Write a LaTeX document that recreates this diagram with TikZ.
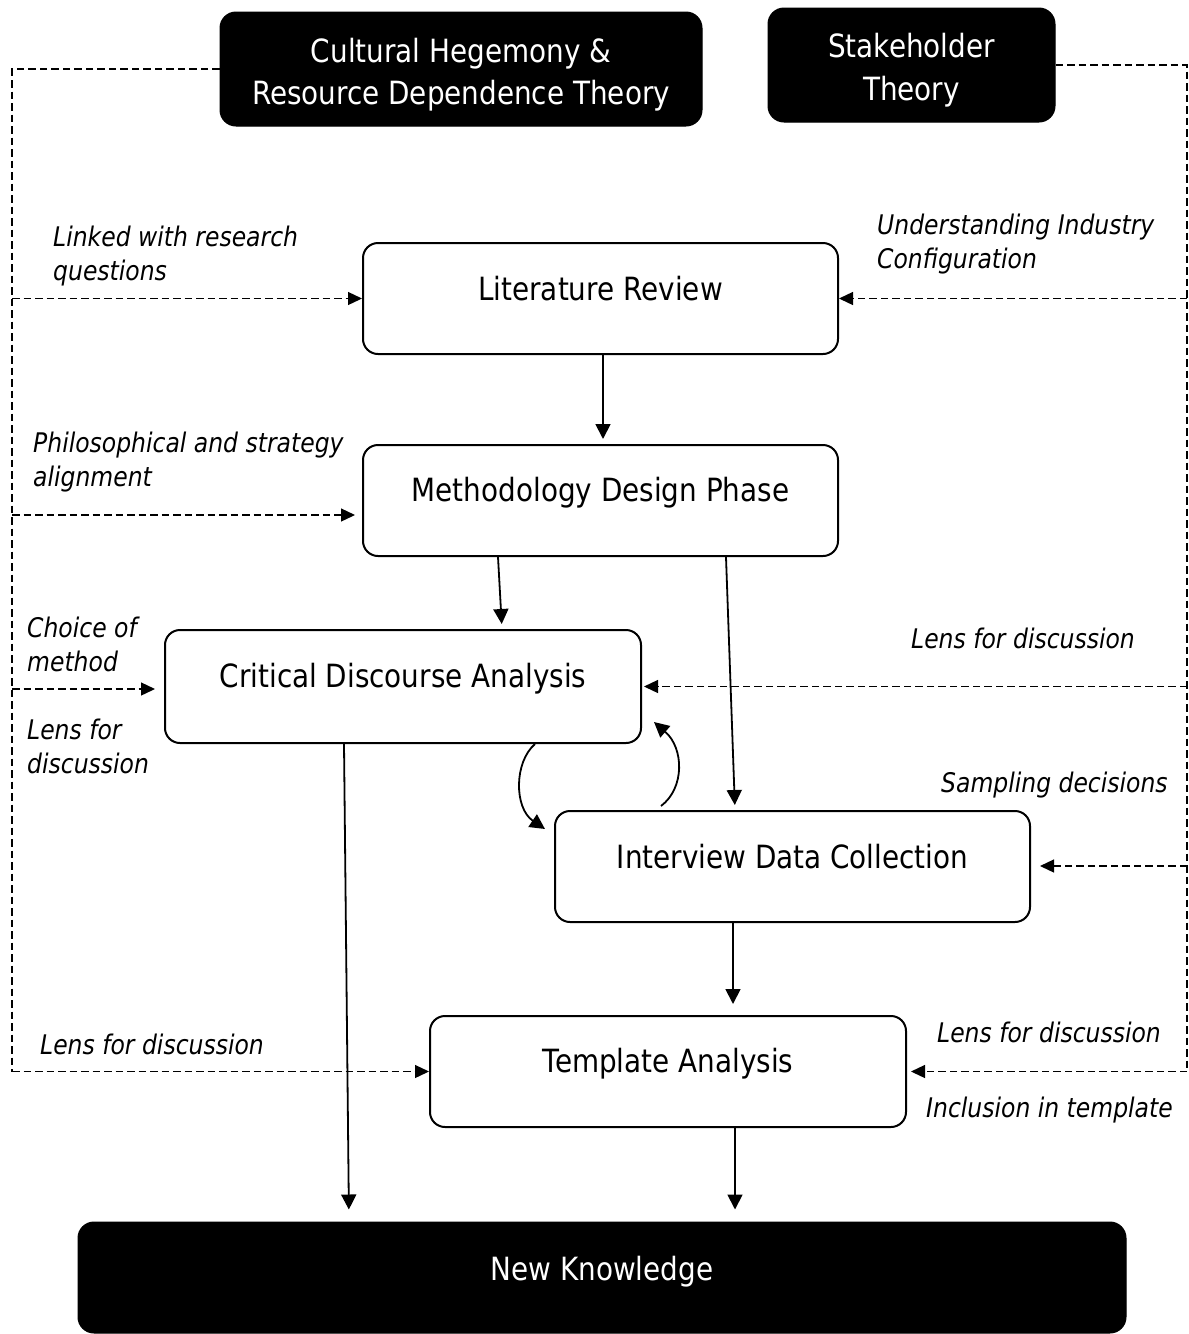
\documentclass[tikz,border=0pt]{standalone}
\usepackage{fontspec}
\setmainfont{DejaVu Sans}[FakeStretch=0.87]
\usetikzlibrary{arrows.meta}
\begin{document}
\begin{tikzpicture}[x=1pt,y=-1pt,
  wbox/.style={draw=black, line width=2pt, rounded corners=15pt, fill=white, inner sep=0pt},
  bbox/.style={draw=black, fill=black, line width=1pt, rounded corners=16pt, inner sep=0pt},
  btext/.style={font=\fontsize{32}{43}\selectfont, inner sep=0pt, anchor=base},
  lbl/.style={font=\fontsize{27}{34.5}\selectfont\itshape, inner sep=0pt, anchor=north west, align=left},
  flow/.style={line width=1.8pt, -{Triangle[length=15pt,width=15pt]}},
  dline/.style={line width=1.3pt, dash pattern=on 7.5pt off 4pt},
  darrow/.style={dline, -{Triangle[length=14pt,width=13pt]}}
]
\useasboundingbox (0,0) rectangle (1189,1334);

% theory boxes
\node[bbox, minimum width=482pt, minimum height=114pt] (chg) at (461,69) {};
\node[btext, text=white] (chg1) at (461,62) {Cultural Hegemony \&};
\node[btext, text=white] (chg2) at (461,104) {Resource Dependence Theory};
\node[bbox, minimum width=287pt, minimum height=114pt] (sth) at (911.5,65) {};
\node[btext, text=white] (sth1) at (911.5,57) {Stakeholder};
\node[btext, text=white] (sth2) at (911.5,100) {Theory};

% process boxes
\node[wbox, minimum width=475pt, minimum height=111pt] (lit) at (600.5,298.5) {};
\node[btext] (littxt) at (600.5,300) {Literature Review};
\node[wbox, minimum width=475pt, minimum height=111pt] (meth) at (600.5,500.5) {};
\node[btext] (methtxt) at (600.5,501) {Methodology Design Phase};
\node[wbox, minimum width=476pt, minimum height=113pt] (cda) at (403,686.5) {};
\node[btext] (cdatxt) at (403,687) {Critical Discourse Analysis};
\node[wbox, minimum width=475pt, minimum height=111pt] (idc) at (792.5,866.5) {};
\node[btext] (idctxt) at (792.5,868) {Interview Data Collection};
\node[wbox, minimum width=476pt, minimum height=111pt] (tmpl) at (668,1071.5) {};
\node[btext] (tmpltxt) at (668,1072) {Template Analysis};
\node[bbox, minimum width=1048pt, minimum height=111pt] (nk) at (602,1277.5) {};
\node[btext, text=white] (nktxt) at (602,1280) {New Knowledge};

% rails and free ends of the dashed connectors
\coordinate (lrail) at (12,0);
\coordinate (rrail) at (1187,0);
\coordinate (mIn) at (355,515);
\coordinate (cIn) at (155,689);
\coordinate (iIn) at (1040,866);

% left theory rail
\draw[dline] (chg.west) -- (lrail |- chg.west) -- (lrail |- tmpl.west);
\draw[darrow] (lrail |- lit.west) -- (lit.west);
\draw[darrow] (lrail |- mIn) -- (mIn);
\draw[darrow] (lrail |- cIn) -- (cIn);
\draw[darrow] (lrail |- tmpl.west) -- (tmpl.west);

% right theory rail
\draw[dline] (sth.east) -- (rrail |- sth.east) -- (rrail |- tmpl.east);
\draw[darrow] (rrail |- lit.east) -- (lit.east);
\draw[darrow] (rrail |- cda.east) -- ([xshift=2pt]cda.east);
\draw[darrow] (rrail |- iIn) -- (iIn);
\draw[darrow] (rrail |- tmpl.east) -- ([xshift=4pt]tmpl.east);

% process flow
\draw[flow, shorten >=5pt] ([xshift=2.5pt]lit.south) -- ([xshift=2.5pt]meth.north);
\draw[flow, shorten >=5pt] ([xshift=-102.5pt]meth.south) -- ([xshift=99pt]cda.north);
\draw[flow, shorten >=5pt] ([xshift=125.5pt]meth.south) -- ([xshift=-57.5pt]idc.north);
\draw[flow, shorten >=12pt] ([xshift=-59pt]cda.south) -- ([xshift=-253pt]nk.north);
\draw[flow, shorten >=11pt] ([xshift=-59.5pt]idc.south) -- ([xshift=65pt]tmpl.north);
\draw[flow, shorten >=12pt] ([xshift=67pt]tmpl.south) -- ([xshift=133pt]nk.north);

% iteration between discourse analysis and interviews
\draw[flow] ([xshift=132pt]cda.south) .. controls (514,762) and (514,808) .. ([xshift=-9pt,yshift=-19pt]idc.north west);
\draw[flow] ([xshift=-131.5pt,yshift=4pt]idc.north) .. controls (685,788) and (684,748) .. ([xshift=12pt,yshift=22pt]cda.south east);

% labels
\node[lbl] (l1) at (53,225.5) {Linked with research\\questions};
\node[lbl] (l2) at (877,213.5) {Understanding Industry\\Configuration};
\node[lbl] (l3) at (33,431.5) {Philosophical and strategy\\alignment};
\node[lbl] (l4) at (27,616.5) {Choice of\\method};
\node[lbl] (l5) at (27,718.5) {Lens for\\discussion};
\node[lbl] (l6) at (911,627.5) {Lens for discussion};
\node[lbl] (l7) at (941,771.5) {Sampling decisions};
\node[lbl] (l8) at (40,1033.5) {Lens for discussion};
\node[lbl] (l9) at (937,1021.5) {Lens for discussion};
\node[lbl] (l10) at (926,1097) {Inclusion in template};
\end{tikzpicture}
\end{document}
